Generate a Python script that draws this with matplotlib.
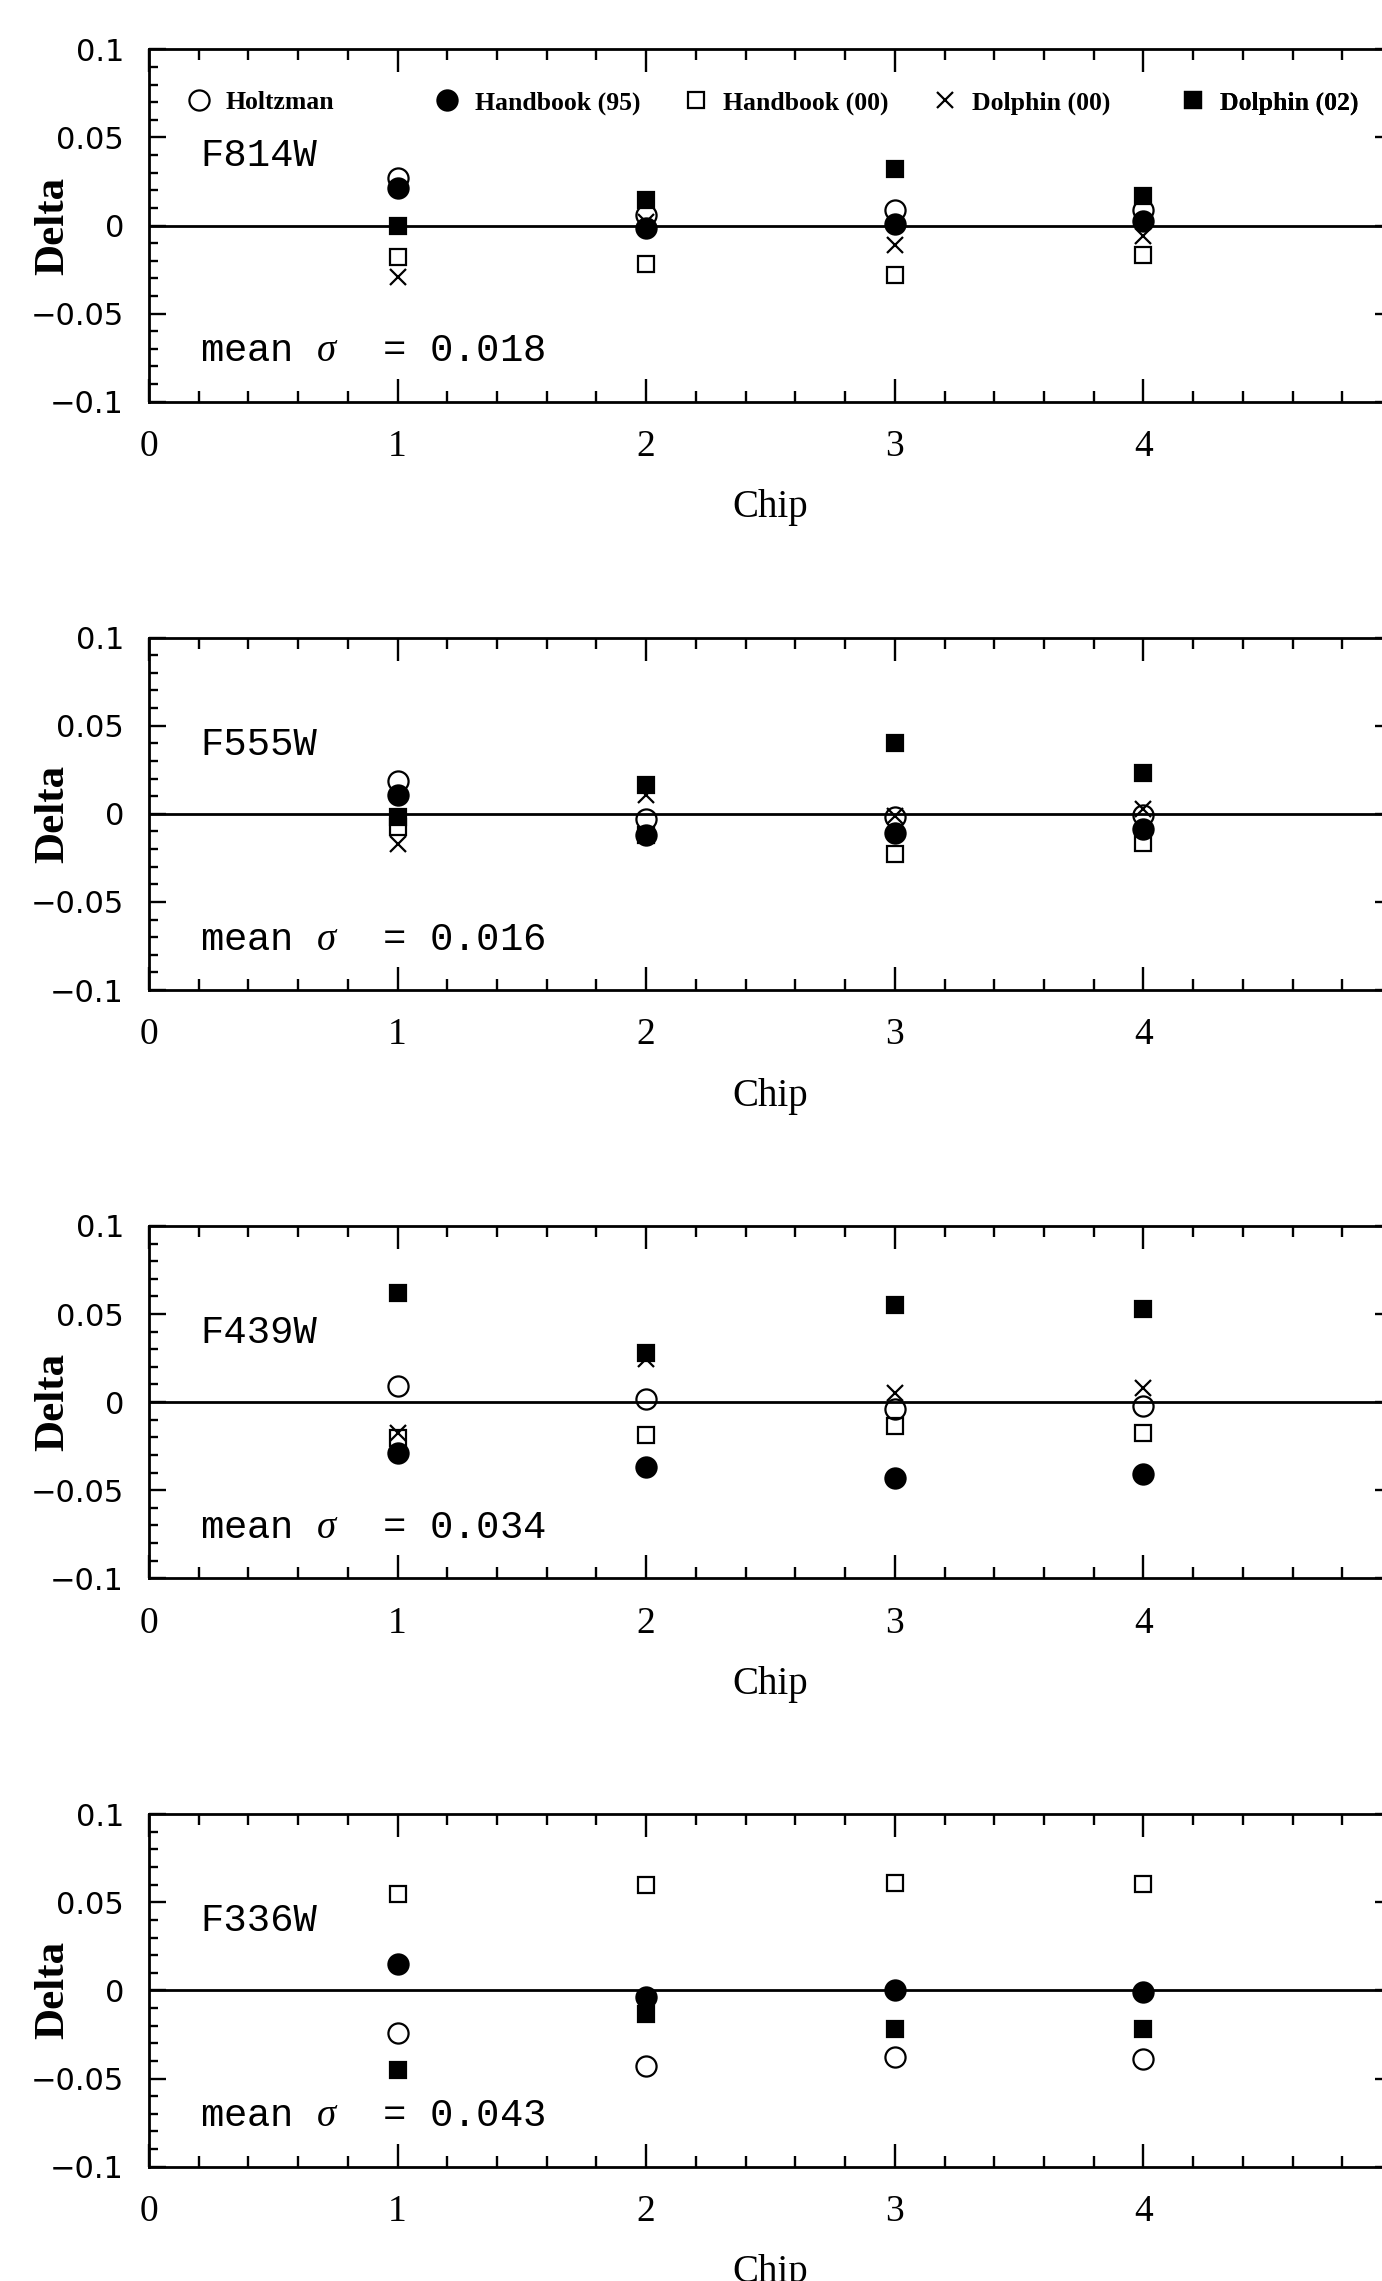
import matplotlib
matplotlib.use('Agg')
import matplotlib.pyplot as plt
from matplotlib.ticker import MultipleLocator

plt.rcParams['mathtext.fontset'] = 'custom'
plt.rcParams['mathtext.it'] = 'Liberation Serif:italic'
plt.rcParams['mathtext.rm'] = 'Liberation Mono'

# ---------------- data ----------------
chips = [1, 2, 3, 4]
filters = ['F814W', 'F555W', 'F439W', 'F336W']
mean_sigma = ['0.018', '0.016', '0.034', '0.043']
series_names = ['Holtzman', 'Handbook (95)', 'Handbook (00)', 'Dolphin (00)', 'Dolphin (02)']

holtzman = {
    'F814W': [0.027, 0.006, 0.0087, 0.009],
    'F555W': [0.0185, -0.003, -0.002, -0.0005],
    'F439W': [0.0091, 0.0019, -0.0038, -0.002],
    'F336W': [-0.0242, -0.0431, -0.038, -0.039],
}
handbook95 = {
    'F814W': [0.021, -0.0013, 0.0006, 0.0025],
    'F555W': [0.0104, -0.0123, -0.011, -0.0089],
    'F439W': [-0.0287, -0.0367, -0.0429, -0.041],
    'F336W': [0.0151, -0.0038, 0.0, -0.001],
}
handbook00 = {
    'F814W': [-0.018, -0.022, -0.028, -0.017],
    'F555W': [-0.0074, -0.012, -0.023, -0.0166],
    'F439W': [-0.0202, -0.0189, -0.0136, -0.0178],
    'F336W': [0.0549, 0.060, 0.0609, 0.0605],
}
dolphin00 = {
    'F814W': [-0.029, 0.002, -0.011, -0.006],
    'F555W': [-0.0174, 0.0104, -0.001, 0.003],
    'F439W': [-0.0174, 0.0242, 0.0053, 0.0082],
    'F336W': None,
}
dolphin02 = {
    'F814W': [0.0, 0.0147, 0.032, 0.0166],
    'F555W': [-0.002, 0.0166, 0.040, 0.0233],
    'F439W': [0.062, 0.028, 0.055, 0.0531],
    'F336W': [-0.045, -0.0132, -0.0219, -0.0219],
}

xtick_vals = [0, 1, 2, 3, 4, 5]
xtick_labels = ['0', '1', '2', '3', '4', '']
ytick_vals = [-0.1, -0.05, 0, 0.05, 0.1]
ytick_labels = ['\u22120.1', '\u22120.05', '0', '0.05', '0.1']

# ---------------- styles ----------------
styles = [
    dict(marker='o', ms=14.5, mfc='none', mec='k', mew=1.6, ls='none'),
    dict(marker='o', ms=14.5, mfc='k', mec='k', mew=1.6, ls='none'),
    dict(marker='s', ms=11, mfc='none', mec='k', mew=1.6, ls='none'),
    dict(marker='x', ms=11.5, mfc='none', mec='k', mew=1.6, ls='none'),
    dict(marker='s', ms=11, mfc='k', mec='k', mew=1.6, ls='none'),
]
all_series = [holtzman, handbook95, handbook00, dolphin00, dolphin02]

W, H = 1382, 2281
fig = plt.figure(figsize=(W / 100, H / 100), dpi=100)

left_px, right_px = 149, 1392
top0, bot0, step = 49.3, 401.7, 588.3

legend_prop = {'family': 'Liberation Serif', 'weight': 'bold', 'size': 18.5}

for k, filt in enumerate(filters):
    top_px = top0 + k * step
    bot_px = bot0 + k * step
    ax = fig.add_axes([left_px / W, 1 - bot_px / H,
                       (right_px - left_px) / W, (bot_px - top_px) / H])
    ax.set_xlim(0, 5)
    ax.set_ylim(-0.1, 0.1)
    ax.axhline(0, color='k', lw=2, zorder=1)

    handles = []
    for ser, st, name in zip(all_series, styles, series_names):
        vals = ser[filt]
        if vals is None:
            h, = ax.plot([], [], color='k', **st)
        else:
            h, = ax.plot(chips, vals, color='k', zorder=3, **st)
        handles.append(h)

    if k == 0:
        for i, (h, name) in enumerate(zip(handles, series_names)):
            leg = ax.legend([h], [name], loc='center left',
                            bbox_to_anchor=(i + 0.2 - 0.0475, 0.0696),
                            bbox_transform=ax.transData,
                            frameon=False, borderpad=0, borderaxespad=0,
                            handlelength=0.92, handletextpad=0.6,
                            numpoints=1, prop=legend_prop)
            ax.add_artist(leg)

    ax.text(0.205, 0.0336, filt, fontfamily='Liberation Mono', fontsize=28,
            va='baseline', ha='left')
    ax.text(0.205, -0.0771, 'mean $\\sigma$  = ' + mean_sigma[k],
            fontfamily='Liberation Mono', fontsize=28, va='baseline', ha='left')

    ax.set_xticks(xtick_vals, xtick_labels)
    ax.xaxis.set_minor_locator(MultipleLocator(0.2))
    ax.set_yticks(ytick_vals, ytick_labels)
    ax.yaxis.set_minor_locator(MultipleLocator(0.01))

    ax.tick_params(axis='x', which='major', direction='in', length=16.5, width=1.7,
                   top=True, bottom=True, pad=20, labelsize=27,
                   labelfontfamily='Liberation Serif')
    ax.tick_params(axis='x', which='minor', direction='in', length=8, width=1.7,
                   top=True, bottom=True)
    ax.tick_params(axis='y', which='major', direction='in', length=12, width=1.7,
                   left=True, right=True, pad=18, labelsize=22,
                   labelfontfamily='DejaVu Sans')
    ax.tick_params(axis='y', which='minor', direction='in', length=6.5, width=1.7,
                   left=True, right=True)
    for sp in ax.spines.values():
        sp.set_linewidth(2)

    ax.set_xlabel('Chip', fontfamily='Liberation Serif', fontsize=28)
    ax.xaxis.set_label_coords(0.5, -0.3286)
    ax.xaxis.label.set_verticalalignment('baseline')
    ax.set_ylabel('Delta', fontfamily='Liberation Serif', fontweight='bold', fontsize=31)
    ax.yaxis.set_label_coords(-0.069, 0.5)
    ax.yaxis.label.set_verticalalignment('baseline')

fig.savefig('out.png', dpi=100)
